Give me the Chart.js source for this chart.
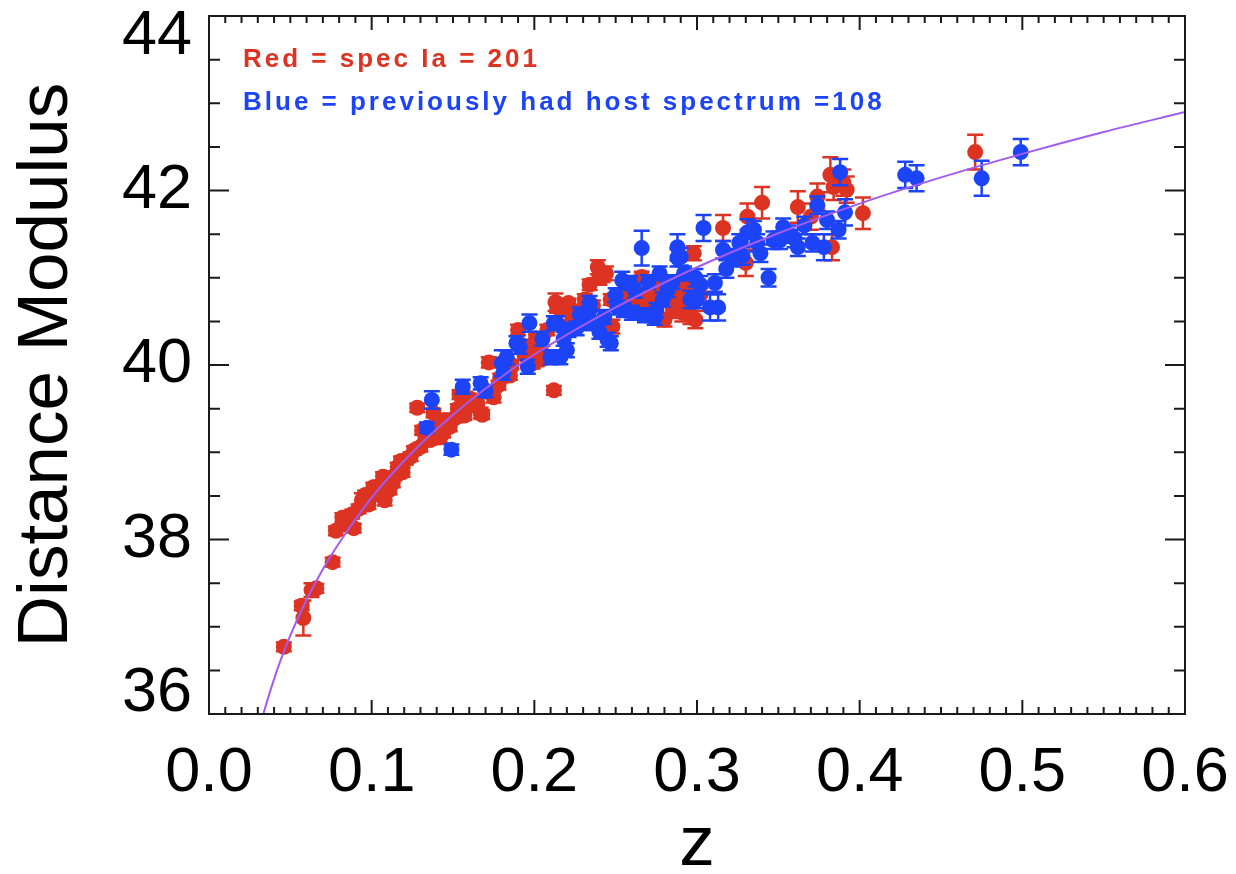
<!DOCTYPE html>
<html>
<head>
<meta charset="utf-8">
<script src="https://cdn.jsdelivr.net/npm/chart.js@4.4.1/dist/chart.umd.min.js"></script>
<style>
  html, body { margin: 0; padding: 0; background: #fff; }
  #wrap { width: 1236px; height: 874px; position: relative; }
</style>
</head>
<body>
<div id="wrap"><canvas id="hubble"></canvas></div>
<script>
// [z, distance modulus, error]
const redPoints = [
  [0.046,36.77,0.05],[0.057,37.24,0.05],[0.058,37.10,0.20],[0.063,37.42,0.08],[0.066,37.44,0.05],
  [0.076,37.74,0.05],[0.078,38.10,0.05],[0.082,38.25,0.05],[0.084,38.17,0.05],[0.088,38.29,0.05],
  [0.089,38.13,0.05],[0.092,38.35,0.05],[0.094,38.45,0.08],[0.096,38.51,0.05],[0.098,38.40,0.05],
  [0.101,38.60,0.05],[0.103,38.52,0.05],[0.105,38.62,0.05],[0.107,38.72,0.05],[0.108,38.45,0.06],
  [0.111,38.57,0.05],[0.113,38.65,0.05],[0.114,38.73,0.05],[0.116,38.83,0.05],[0.118,38.90,0.05],
  [0.119,38.77,0.05],[0.121,38.91,0.05],[0.124,38.95,0.05],[0.126,39.02,0.05],[0.128,39.51,0.05],
  [0.130,39.06,0.05],[0.131,39.25,0.05],[0.133,39.20,0.05],[0.136,39.14,0.05],[0.138,39.45,0.05],
  [0.140,39.30,0.05],[0.142,39.17,0.06],[0.144,39.22,0.05],[0.145,39.37,0.05],[0.148,39.29,0.05],
  [0.151,39.39,0.05],[0.153,39.50,0.05],[0.154,39.66,0.05],[0.157,39.42,0.05],[0.159,39.52,0.05],
  [0.160,39.62,0.05],[0.162,39.58,0.05],[0.165,39.56,0.06],[0.167,39.45,0.06],[0.168,39.43,0.05],
  [0.170,39.70,0.05],[0.172,40.03,0.06],[0.175,39.63,0.06],[0.178,39.77,0.05],[0.179,39.85,0.05],
  [0.183,39.94,0.05],[0.185,39.88,0.05],[0.186,40.00,0.05],[0.190,40.40,0.06],[0.192,40.23,0.05],
  [0.194,40.11,0.05],[0.196,40.15,0.05],[0.199,40.02,0.06],[0.201,40.30,0.05],[0.204,40.21,0.06],
  [0.204,40.06,0.05],[0.208,40.40,0.06],[0.212,39.71,0.05],[0.213,40.72,0.10],[0.214,40.66,0.06],
  [0.217,40.66,0.06],[0.220,40.66,0.05],[0.221,40.71,0.05],[0.223,40.50,0.06],[0.225,40.57,0.06],
  [0.228,40.62,0.06],[0.231,40.75,0.06],[0.234,40.92,0.06],[0.236,40.68,0.06],[0.239,41.12,0.08],
  [0.240,41.00,0.08],[0.242,41.01,0.06],[0.244,41.05,0.08],[0.247,40.75,0.06],[0.248,40.44,0.08],
  [0.251,40.78,0.06],[0.253,40.70,0.06],[0.256,40.92,0.06],[0.258,40.80,0.06],[0.261,40.75,0.06],
  [0.261,40.63,0.06],[0.265,40.63,0.10],[0.266,41.01,0.06],[0.268,40.70,0.08],[0.271,40.80,0.06],
  [0.271,40.92,0.06],[0.274,40.88,0.08],[0.277,40.75,0.08],[0.280,40.52,0.08],[0.282,40.95,0.08],
  [0.285,40.66,0.10],[0.285,40.86,0.08],[0.287,40.62,0.08],[0.288,40.78,0.08],[0.290,40.78,0.06],
  [0.291,40.60,0.10],[0.291,40.71,0.08],[0.293,40.90,0.08],[0.296,40.57,0.10],[0.298,41.28,0.08],
  [0.299,40.52,0.10],[0.302,40.80,0.08],[0.316,41.57,0.15],[0.330,41.17,0.15],[0.331,41.70,0.15],
  [0.340,41.86,0.18],[0.362,41.81,0.18],[0.370,41.70,0.15],[0.374,41.93,0.15],[0.382,42.18,0.20],
  [0.383,41.35,0.15],[0.384,42.04,0.15],[0.390,42.09,0.15],[0.392,42.01,0.15],[0.402,41.74,0.18],
  [0.471,42.44,0.20]
];

const bluePoints = [
  [0.134,39.28,0.06],[0.137,39.60,0.10],[0.149,39.03,0.06],[0.156,39.75,0.08],[0.167,39.79,0.07],
  [0.170,39.70,0.07],[0.180,40.02,0.15],[0.181,39.91,0.08],[0.183,40.09,0.08],[0.189,40.25,0.08],
  [0.191,40.21,0.08],[0.196,39.98,0.08],[0.197,40.48,0.10],[0.205,40.30,0.08],[0.210,40.09,0.08],
  [0.212,40.48,0.08],[0.214,40.48,0.08],[0.216,40.09,0.08],[0.218,40.30,0.08],[0.220,40.17,0.08],
  [0.221,40.40,0.08],[0.226,40.42,0.08],[0.228,40.58,0.08],[0.230,40.48,0.08],[0.234,40.63,0.08],
  [0.234,40.71,0.08],[0.236,40.48,0.08],[0.240,40.38,0.08],[0.243,40.55,0.08],[0.245,40.29,0.08],
  [0.247,40.25,0.08],[0.250,40.80,0.08],[0.251,40.66,0.08],[0.254,40.97,0.10],[0.255,40.63,0.08],
  [0.259,40.94,0.08],[0.260,40.60,0.08],[0.262,40.85,0.08],[0.266,41.34,0.20],[0.268,40.57,0.08],
  [0.270,40.95,0.08],[0.274,40.54,0.08],[0.275,40.63,0.08],[0.277,41.05,0.08],[0.279,40.75,0.08],
  [0.282,40.86,0.08],[0.285,40.95,0.08],[0.288,41.35,0.15],[0.288,41.23,0.10],[0.290,41.24,0.10],
  [0.292,41.05,0.08],[0.296,40.75,0.10],[0.299,41.00,0.10],[0.300,40.75,0.10],[0.302,40.92,0.10],
  [0.304,41.57,0.15],[0.308,40.66,0.15],[0.311,40.94,0.10],[0.313,40.66,0.15],[0.316,41.32,0.10],
  [0.318,41.10,0.10],[0.322,41.23,0.10],[0.326,41.40,0.10],[0.328,41.25,0.10],[0.331,41.52,0.15],
  [0.335,41.55,0.10],[0.337,41.40,0.10],[0.339,41.28,0.10],[0.344,41.00,0.10],[0.347,41.43,0.10],
  [0.351,41.43,0.10],[0.353,41.58,0.10],[0.356,41.50,0.10],[0.360,41.45,0.10],[0.362,41.35,0.10],
  [0.366,41.60,0.10],[0.371,41.40,0.10],[0.374,41.83,0.10],[0.378,41.35,0.15],[0.380,41.66,0.10],
  [0.387,41.55,0.10],[0.388,42.21,0.15],[0.391,41.75,0.15],[0.428,42.18,0.15],[0.435,42.14,0.15],
  [0.475,42.14,0.20],[0.499,42.44,0.15]
];

// model curve, sampled off the plot
const modelZ  = [0.02, 0.03, 0.04, 0.05, 0.06, 0.07, 0.08, 0.10, 0.125, 0.15, 0.175, 0.20, 0.25, 0.30, 0.35, 0.40, 0.45, 0.50, 0.55, 0.60];
const modelMu = [34.86, 35.76, 36.40, 36.90, 37.31, 37.66, 37.96, 38.48, 39.00, 39.43, 39.80, 40.12, 40.66, 41.12, 41.51, 41.85, 42.15, 42.42, 42.67, 42.90];

const legendLines = ['Red = spec Ia = 201', 'Blue = previously had host spectrum =108'];

const RED = '#dd3322';
const BLUE = '#1c44f6';
const PURPLE = '#a25cf2';
const FONT = "'Liberation Sans', Helvetica, Arial, sans-serif";

const toXY = pts => pts.map(p => ({ x: p[0], y: p[1] }));

// vertical error bars with caps, drawn just under each dataset's points
const errorBars = {
    id: 'errorBars',
    beforeDatasetDraw(chart, args) {
        const ds = chart.data.datasets[args.index];
        if (!ds.errors) return;
        const { ctx, scales: { x, y } } = chart;
        ctx.save();
        ctx.strokeStyle = ds.backgroundColor;
        ctx.lineWidth = 2.5;
        ds.data.forEach((p, i) => {
            const e = ds.errors[i];
            const px = x.getPixelForValue(p.x);
            const top = y.getPixelForValue(p.y + e);
            const bot = y.getPixelForValue(p.y - e);
            ctx.beginPath();
            ctx.moveTo(px, top); ctx.lineTo(px, bot);
            ctx.moveTo(px - 8, top); ctx.lineTo(px + 8, top);
            ctx.moveTo(px - 8, bot); ctx.lineTo(px + 8, bot);
            ctx.stroke();
        });
        ctx.restore();
    }
};

// IDL style box with inward major/minor ticks on all four sides + the coloured notes
const frame = {
    id: 'frame',
    afterDraw(chart) {
        const { ctx, chartArea: a, scales: { x, y } } = chart;
        ctx.save();
        ctx.strokeStyle = '#1a1a1a';
        ctx.lineWidth = 2;
        ctx.strokeRect(a.left, a.top, a.right - a.left, a.bottom - a.top);
        ctx.beginPath();
        for (let i = 0; i <= 60; i++) {
            const px = x.getPixelForValue(i / 100);
            const len = i % 10 === 0 ? 14 : 7;
            ctx.moveTo(px, a.bottom); ctx.lineTo(px, a.bottom - len);
            ctx.moveTo(px, a.top); ctx.lineTo(px, a.top + len);
        }
        for (let i = 0; i <= 16; i++) {
            const py = y.getPixelForValue(36 + i * 0.5);
            const len = i % 4 === 0 ? 20 : 11;
            ctx.moveTo(a.left, py); ctx.lineTo(a.left + len, py);
            ctx.moveTo(a.right, py); ctx.lineTo(a.right - len, py);
        }
        ctx.stroke();

        ctx.font = 'bold 26px ' + FONT;
        ctx.letterSpacing = '3px';
        ctx.textBaseline = 'middle';
        ctx.textAlign = 'left';
        ctx.fillStyle = RED;
        ctx.fillText(legendLines[0], a.left + 34, a.top + 44);
        ctx.fillStyle = BLUE;
        ctx.fillText(legendLines[1], a.left + 34, a.top + 87);
        ctx.restore();
    }
};

document.addEventListener('DOMContentLoaded', () => {
    const ctx = document.getElementById('hubble').getContext('2d');
    new Chart(ctx, {
        type: 'scatter',
        data: {
            datasets: [
                {
                    label: 'model', data: modelZ.map((z, i) => ({ x: z, y: modelMu[i] })),
                    showLine: true, borderColor: PURPLE, borderWidth: 2, pointRadius: 0,
                    cubicInterpolationMode: 'monotone', order: 0
                },
                {
                    label: 'blue', data: toXY(bluePoints), errors: bluePoints.map(p => p[2]),
                    backgroundColor: BLUE, borderWidth: 0, pointRadius: 8, order: 1
                },
                {
                    label: 'red', data: toXY(redPoints), errors: redPoints.map(p => p[2]),
                    backgroundColor: RED, borderWidth: 0, pointRadius: 8, order: 2
                }
            ]
        },
        options: {
            responsive: true,
            maintainAspectRatio: false,
            animation: false,
            layout: { padding: { top: 16, right: 51, left: 0, bottom: 0 } },
            plugins: { legend: { display: false }, tooltip: { enabled: false } },
            scales: {
                x: {
                    type: 'linear', min: 0, max: 0.6,
                    grid: { display: false, drawTicks: false },
                    border: { display: false },
                    ticks: {
                        stepSize: 0.1, padding: 22, color: '#000',
                        font: { family: FONT, size: 63 },
                        maxRotation: 0,
                        callback: v => v.toFixed(1)
                    },
                    title: {
                        display: true, text: 'z', color: '#000',
                        font: { family: FONT, size: 71, lineHeight: 0.8 },
                        padding: { top: 0, bottom: 0 }
                    },
                    afterFit: s => { s.height = 160; s.paddingLeft = 0; s.paddingRight = 0; }
                },
                y: {
                    type: 'linear', min: 36, max: 44,
                    grid: { display: false, drawTicks: false },
                    border: { display: false },
                    ticks: {
                        stepSize: 2, padding: 17, color: '#000',
                        font: { family: FONT, size: 63, lineHeight: 0.65 },
                        callback: v => v === 44 ? ['', '44'] : v === 36 ? ['36', ''] : String(v)
                    },
                    title: {
                        display: true, text: 'Distance Modulus', color: '#000',
                        font: { family: FONT, size: 71, lineHeight: 1 },
                        padding: { top: 12, bottom: 0 }
                    },
                    afterFit: s => { s.width = 209; s.paddingTop = 0; s.paddingBottom = 0; }
                }
            }
        },
        plugins: [errorBars, frame]
    });
});
</script>
</body>
</html>
